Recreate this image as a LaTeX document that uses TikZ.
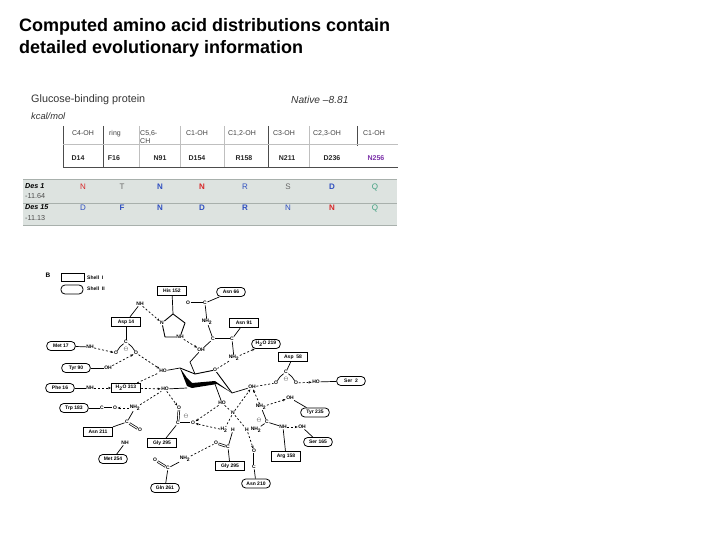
\documentclass[tikz,border=0pt]{standalone}
\usepackage{fontspec}
\setmainfont{Liberation Sans}
\usetikzlibrary{arrows.meta}
\definecolor{rowgrey}{HTML}{DDE3E0}
\definecolor{rowline}{HTML}{A8B0AC}
\definecolor{cred}{HTML}{D8282A}
\definecolor{cblue}{HTML}{2F4FC0}
\definecolor{cgreen}{HTML}{3F9F7F}
\definecolor{cpurple}{HTML}{7A2FA8}
\definecolor{cgrey}{HTML}{666666}
\tikzset{
  titletext/.style={anchor=west,inner sep=0pt,font=\bfseries\fontsize{18}{20}\selectfont},
  captext/.style={anchor=west,inner sep=0pt,font=\fontsize{10.8}{12}\selectfont,text=black!80},
  headtext/.style={inner sep=0pt,text depth=0pt,text height=5pt,font=\fontsize{7}{8}\selectfont,text=black!75},
  restext/.style={inner sep=0pt,font=\bfseries\fontsize{7}{8}\selectfont,text=black!85},
  lettertext/.style={inner sep=0pt,text depth=0pt,text height=5.8pt,font=\fontsize{8}{9}\selectfont},
  blettertext/.style={inner sep=0pt,text depth=0pt,text height=5.8pt,font=\bfseries\fontsize{8}{9}\selectfont},
  rowname/.style={anchor=west,inner sep=0pt,font=\bfseries\itshape\fontsize{7.2}{8}\selectfont},
  rowval/.style={anchor=west,inner sep=0pt,font=\fontsize{7.2}{8}\selectfont,text=black!70},
  sq/.style={draw,line width=.8pt,fill=white,minimum width=29pt,minimum height=9.5pt,inner sep=0pt,font=\bfseries\fontsize{5}{6}\selectfont},
  rd/.style={draw,line width=.8pt,fill=white,rounded corners=4pt,minimum width=28.5pt,minimum height=9pt,inner sep=0pt,font=\bfseries\fontsize{5}{6}\selectfont},
  atom/.style={inner sep=.4pt,font=\bfseries\fontsize{5}{6}\selectfont,fill=white},
  bond/.style={line width=.7pt},
  hb/.style={line width=.7pt,dash pattern=on 2pt off 2pt},
  hbar/.style={hb,-{Stealth[length=3pt,width=2.4pt]}},
  ringb/.style={line width=.9pt,line join=round},
  tline/.style={line width=.7pt,black!70},
  fline/.style={line width=.5pt,black!25}
}
\begin{document}
\begin{tikzpicture}[x=1pt,y=-1pt]
\useasboundingbox (0,0) rectangle (720,540);
\node[titletext] (t1) at (19,27) {Computed amino acid distributions contain};
\node[titletext] (t2) at (19,49) {detailed evolutionary information};
\node[captext] (c1) at (31,99.5) {Glucose-binding protein};
\node[captext,font=\itshape\fontsize{10.2}{12}\selectfont] (c2) at (291,99.5) {Native –8.81};
\node[captext,font=\itshape\fontsize{9.3}{11}\selectfont] (c3) at (31,116.5) {kcal/mol};
% table
\fill[rowgrey] (23,180) rectangle (397,225);
\draw[line width=.6pt,rowline] (23,179.5) -- (397,179.5) (23,203) -- (397,203) (23,225.5) -- (397,225.5);
\draw[tline] (63,126) -- (63,167) (103,126) -- (103,167) (268,126) -- (268,167) (357,126) -- (357,146);
\draw[fline] (139,126) -- (139,167) (180,126) -- (180,167) (224,126) -- (224,167) (309,126) -- (309,167);
\draw[fline] (63,144.5) -- (398,144.5);
\draw[tline] (63,167.5) -- (398,167.5);
\foreach \px/\tx in {83/C4-OH,115/ring,197/C1-OH,242/C1{,}2-OH,284/C3-OH,327/C2{,}3-OH,374/C1-OH}
  \node[headtext] at (\px,133) {\tx};
\node[headtext,anchor=west] (h56a) at (140,133) {C5,6-};
\node[headtext,anchor=west] (h56b) at (140,141) {CH};
\foreach \px/\tx in {78/D14,114/F16,160/N91,197/D154,244/R158,287/N211,332/D236}
  \node[restext] at (\px,158) {\tx};
\node[restext,text=cpurple] (n256) at (376,158) {N256};
\node[rowname] (d1) at (25,186) {Des 1};
\node[rowval] (d1v) at (25,196) {-11.64};
\node[rowname] (d15) at (25,207) {Des 15};
\node[rowval] (d15v) at (25,218) {-11.13};
\foreach \px/\st/\cl/\tx in {83/lettertext/cred/N,122/lettertext/cgrey/T,160/blettertext/cblue/N,202/blettertext/cred/N,245/lettertext/cblue/R,288/lettertext/cgrey/S,332/blettertext/cblue/D,375/lettertext/cgreen/Q}
  \node[\st,text=\cl] at (\px,186.5) {\tx};
\foreach \px/\st/\cl/\tx in {83/lettertext/cblue/D,122/blettertext/cblue/F,160/blettertext/cblue/N,202/blettertext/cblue/D,245/blettertext/cblue/R,288/lettertext/cblue/N,332/blettertext/cred/N,375/lettertext/cgreen/Q}
  \node[\st,text=\cl] at (\px,207.5) {\tx};
% legend
\node[inner sep=0pt,font=\bfseries\fontsize{6.5}{7}\selectfont] (bl) at (48,275) {B};
\node[sq,minimum width=23pt,minimum height=8.5pt] (s1) at (72.5,277.5) {};
\node[rd,minimum width=22pt,minimum height=9pt] (s2) at (72,289.5) {};
\node[inner sep=0pt,font=\bfseries\fontsize{5}{6}\selectfont,anchor=west] (s1t) at (87,277.5) {Shell\ \ I};
\node[inner sep=0pt,font=\bfseries\fontsize{5}{6}\selectfont,anchor=west] (s2t) at (87,289) {Shell\ \ II};
% sugar ring
\coordinate (r1) at (180,368);
\coordinate (r2) at (195,374);
\coordinate (r4) at (232,393);
\coordinate (r6) at (187,388);
\coordinate (r5) at (215,384);
\draw[ringb] (r1) -- (r2) -- (215,370) -- (r4);
\fill[black] (r1) -- (187,378) -- (192,383) -- (215,381) -- (r4) -- (217,384) -- (192,388) -- (187,386) -- cycle;
% residue boxes
\node[sq] (his) at (172,291) {His 152};
\node[sq] (asp14) at (126,322) {Asp 14};
\node[sq] (asn91) at (244,323) {Asn 91};
\node[sq] (asp58) at (293,357) {Asp\ \ 58};
\node[sq] (w313) at (126,388) {H\textsubscript{2}O 313};
\node[sq] (asn211) at (98,432) {Asn 211};
\node[sq] (gly295) at (162,443) {Gly 295};
\node[sq] (gly295b) at (230,466) {Gly 295};
\node[sq] (arg158) at (286,456.5) {Arg 158};
\node[rd] (asn66) at (231,292) {Asn 66};
\node[rd] (w219) at (266,344) {H\textsubscript{2}O 219};
\node[rd] (met17) at (61,346) {Met 17};
\node[rd] (tyr90) at (76,368) {Tyr 90};
\node[rd] (phe16) at (60,388) {Phe 16};
\node[rd] (trp183) at (74,408) {Trp 183};
\node[rd] (met254) at (113,459) {Met 254};
\node[rd] (gln261) at (165,488) {Gln 261};
\node[rd] (ser2) at (351,381) {Ser\ \ 2};
\node[rd] (tyr235) at (315,412.5) {Tyr 235};
\node[rd] (ser165) at (318,442) {Ser 165};
\node[rd] (asn210) at (256,483.5) {Asn 210};
% atoms
\node[atom] (nh1) at (140,304) {NH};
\node[atom] (hisN) at (162,323) {N};
\node[atom] (hisNH) at (180,337) {NH};
\node[atom] (o66) at (188,303) {O};
\node[atom] (c66) at (205,303) {C};
\node[atom] (n66) at (207,322) {NH\textsubscript{2}};
\node[atom] (c91a) at (213,339) {C};
\node[atom] (c91b) at (232,339) {C};
\node[atom] (nh91) at (234,358) {NH\textsubscript{2}};
\node[atom] (o3) at (215,370) {O};
\node[atom] (oh4) at (201,350) {OH};
\node[atom] (c14) at (126,342) {C};
\node[atom] (o14a) at (116,353) {O};
\node[atom] (o14b) at (136,353) {O};
\node[atom] (minus14) at (126,349.5) {$\ominus$};
\node[atom] (nh17) at (90,347) {NH};
\node[atom] (oh90) at (108,368) {OH};
\node[atom] (ho4) at (163,371) {HO};
\node[atom] (nh16) at (90,388) {NH};
\node[atom] (ho1) at (165,389) {HO};
\node[atom] (nh211) at (135,408) {NH\textsubscript{2}};
\node[atom] (o183) at (115,408) {O};
\node[atom] (c183) at (102,408) {C};
\node[atom] (c211) at (127,422) {C};
\node[atom] (o211) at (140,430) {O};
\node[atom] (nh254) at (125,443) {NH};
\node[atom] (o295a) at (179,408) {O};
\node[atom] (c295) at (178,423) {C};
\node[atom] (o295b) at (193,423) {O};
\node[atom] (minus295) at (186,416) {$\ominus$};
\node[atom] (nh261) at (185,459) {NH\textsubscript{2}};
\node[atom] (c261) at (168,468) {C};
\node[atom] (o261) at (155,460) {O};
\node[atom] (oh1) at (252,387) {OH};
\node[atom] (o58a) at (276,383) {O};
\node[atom] (c58) at (286,372) {C};
\node[atom] (o58b) at (296,383) {O};
\node[atom] (minus58) at (286,379.5) {$\ominus$};
\node[atom] (ho2) at (316,382) {HO};
\node[atom] (oh235) at (290,398) {OH};
\node[atom] (nh158a) at (261,407) {NH\textsubscript{2}};
\node[atom] (c158) at (267,422) {C};
\node[atom] (minus158) at (259,420) {$\ominus$};
\node[atom] (nh158b) at (283,427) {NH};
\node[atom] (oh165) at (302,427) {OH};
\node[atom] (nh158c) at (256,429.5) {NH\textsubscript{2}};
\node[atom] (h210) at (247,430) {H};
\node[atom] (o210) at (254,451) {O};
\node[atom] (c210) at (254,467) {C};
\node[atom] (h2a) at (224,430) {H\textsubscript{2}};
\node[atom] (h2b) at (233,430) {H};
\node[atom] (o155) at (216,443) {O};
\node[atom] (c155) at (228,447) {C};
\node[atom] (ho3) at (222,403) {HO};
\node[atom] (n2) at (233,413) {N};
% covalent bonds
\draw[bond] (his) -- (173,314);
\draw[ringb] (173,314) -- (185,323) -- (hisNH) -- (165,337) -- (hisN) -- (173,314);
\draw[bond] (asp14) -- (nh1);
\draw[bond] (asp14) -- (c14);
\draw[bond] (c14) to[bend right=12] (o14a);
\draw[bond] (c14) to[bend left=12] (o14b);
\draw[bond,double,double distance=1pt] (o66) -- (c66);
\draw[bond] (c66) -- (n66);
\draw[bond] (c66) -- (asn66);
\draw[bond] (n66) -- (c91a);
\draw[bond,double,double distance=1pt] (c91a) -- (c91b);
\draw[bond] (c91a) -- (oh4);
\draw[bond] (c91b) -- (asn91);
\draw[bond] (c91b) -- (nh91);
\draw[bond] (oh4) -- (190,362) -- (r2);
\draw[bond] (ho4) -- (r1);
\draw[bond] (ho1) -- (r6);
\draw[bond] (met17) -- (nh17);
\draw[bond] (tyr90) -- (oh90);
\draw[bond] (phe16) -- (nh16);
\draw[bond] (trp183) -- (c183);
\draw[bond,double,double distance=1pt] (c183) -- (o183);
\draw[bond] (c211) -- (nh211);
\draw[bond] (c211) -- (asn211);
\draw[bond,double,double distance=1pt] (c211) -- (o211);
\draw[bond] (nh254) -- (met254);
\draw[bond,double,double distance=1pt] (o295a) -- (c295);
\draw[bond,double,double distance=1pt] (c295) -- (o295b);
\draw[bond] (c295) -- (gly295);
\draw[bond,double,double distance=1pt] (o261) -- (c261);
\draw[bond] (c261) -- (nh261);
\draw[bond] (c261) -- (gln261);
\draw[bond] (asp58) -- (c58);
\draw[bond] (c58) to[bend right=12] (o58a);
\draw[bond] (c58) to[bend left=12] (o58b);
\draw[bond] (ho2) -- (ser2);
\draw[bond] (oh235) -- (tyr235);
\draw[bond] (nh158a) -- (c158);
\draw[bond] (c158) -- (nh158b);
\draw[bond] (c158) -- (nh158c);
\draw[bond] (nh158b) -- (arg158);
\draw[bond] (oh165) -- (ser165);
\draw[bond,double,double distance=1pt] (o210) -- (c210);
\draw[bond] (c210) -- (asn210);
\draw[bond,double,double distance=1pt] (o155) -- (c155);
\draw[bond] (c155) -- (h2b);
\draw[bond] (c155) -- (gly295b);
\draw[bond] (r4) -- (oh1);
\draw[bond] (r5) -- (ho3);
% hydrogen bonds
\draw[hbar] (nh1) -- (hisN);
\draw[hbar] (hisNH) -- (oh4);
\draw[hbar] (nh17) -- (o14a);
\draw[hbar] (oh90) -- (o14b);
\draw[hbar] (o14b) -- (ho4);
\draw[hbar] (nh16) -- (w313);
\draw[hbar] (w313) -- (ho1);
\draw[hb] (w313) -- (ho4);
\draw[hbar] (nh211) -- (o183);
\draw[hb] (nh211) -- (ho1);
\draw[hbar] (ho1) -- (o295a);
\draw[hbar] (ho3) -- (o295b);
\draw[hbar] (h2a) -- (o295b);
\draw[hb] (nh91) -- (o3);
\draw[hbar] (nh91) -- (w219);
\draw[hb] (oh1) -- (o58a);
\draw[hbar] (o58b) -- (ho2);
\draw[hbar] (nh158a) -- (oh235);
\draw[hbar] (nh158a) -- (oh1);
\draw[hbar] (nh158b) -- (oh165);
\draw[hb] (nh261) -- (o155);
\draw[hb] (ho3) -- (n2);
\draw[hb] (n2) -- (h2a);
\draw[hbar] (n2) -- (oh1);
\draw[hb] (n2) -- (h210);
\draw[hbar] (h210) -- (o210);
\end{tikzpicture}
\end{document}
